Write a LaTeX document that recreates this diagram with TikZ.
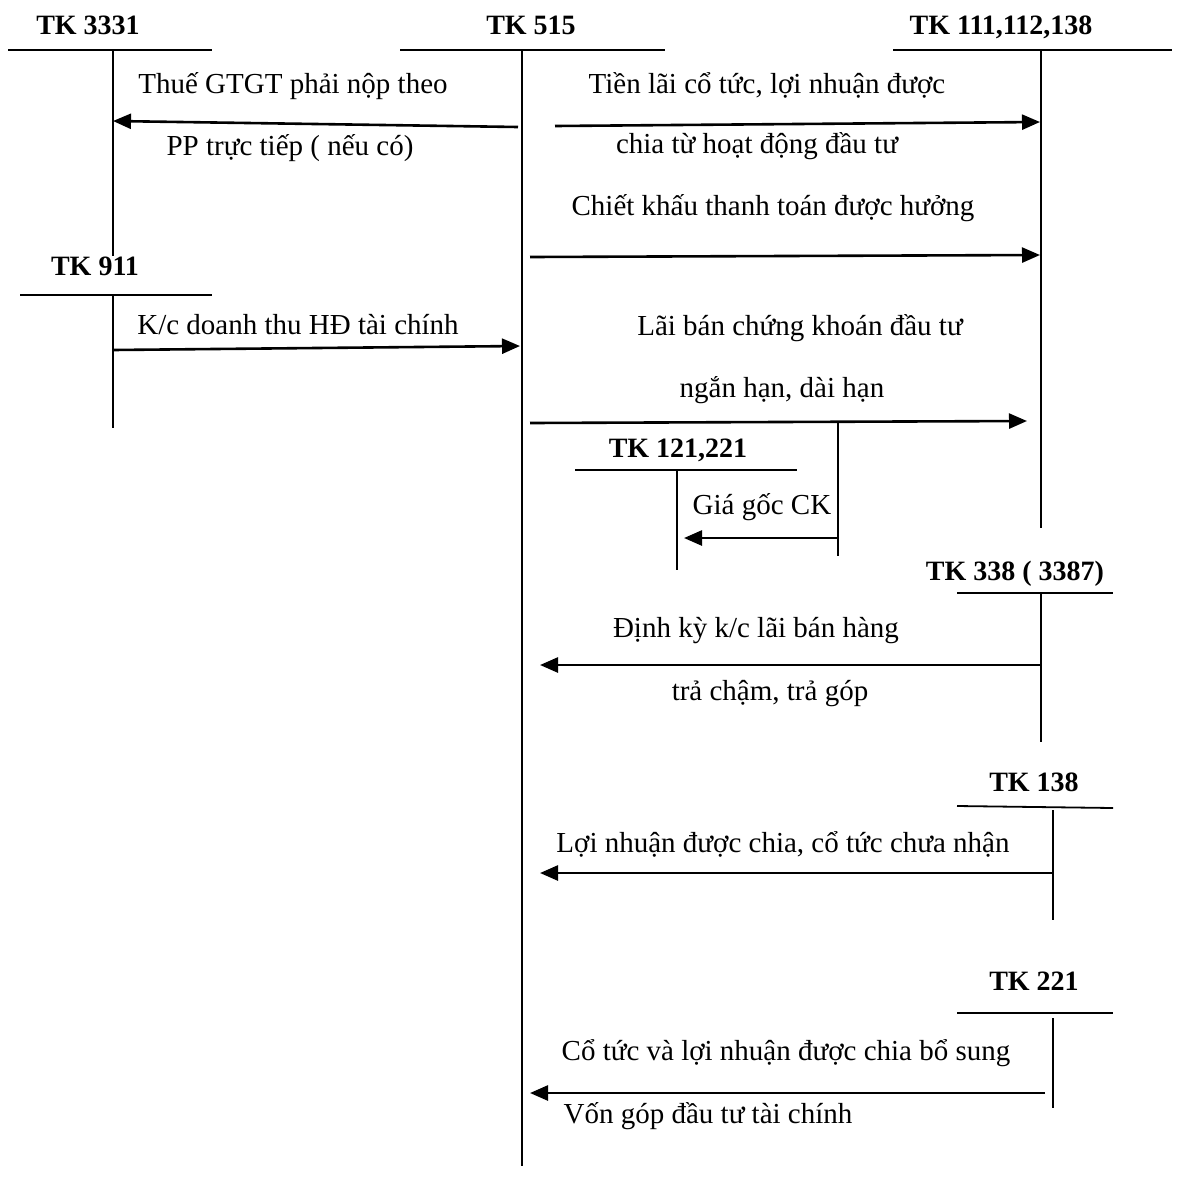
\documentclass[tikz,border=0pt]{standalone}
\usepackage{fontspec}
\setmainfont{Liberation Serif}
\usetikzlibrary{arrows.meta}
\begin{document}
\begin{tikzpicture}[x=1pt,y=-1pt,
  acct/.style={line width=1.8pt},
  flow/.style={line width=2.6pt,-{Triangle[length=18pt,width=15pt]}},
  title/.style={anchor=base,inner sep=0pt,font=\fontsize{28}{32}\selectfont\bfseries},
  note/.style={anchor=base,inner sep=0pt,font=\fontsize{29}{33}\selectfont}]
\useasboundingbox[fill=white] (0,0) rectangle (1178,1179);

% ---- account headings ----
\node[title] (t3331) at (88,34) {TK 3331};
\node[title] (t515) at (531,34) {TK 515};
\node[title] (t111) at (1001,34) {TK 111,112,138};
\node[title] (t911) at (95,275) {TK 911};
\node[title] (t121) at (678,457) {TK 121,221};
\node[title] (t338) at (1015,580) {TK 338 ( 3387)};
\node[title] (t138) at (1034,791) {TK 138};
\node[title] (t221) at (1034,990) {TK 221};

% ---- T-account frames ----
\draw[acct] (8,50) -- (212,50);   \draw[acct] (113,50) -- (113,256);
\draw[acct] (400,50) -- (665,50); \draw[acct] (522,50) -- (522,1166);
\draw[acct] (893,50) -- (1172,50);\draw[acct] (1041,50) -- (1041,528);
\draw[acct] (20,295) -- (212,295);\draw[acct] (113,295) -- (113,428);
\draw[acct] (575,470) -- (797,470);\draw[acct] (677,470) -- (677,570);
\draw[acct] (838,422) -- (838,556);
\draw[acct] (957,593) -- (1113,593);\draw[acct] (1041,593) -- (1041,742);
\draw[acct] (957,806) -- (1113,808);\draw[acct] (1053,810) -- (1053,920);
\draw[acct] (957,1013) -- (1113,1013);\draw[acct] (1053,1018) -- (1053,1108);

% ---- connector end points ----
\coordinate (a1s) at (518,127);  \coordinate (a1e) at (113,121);
\coordinate (a2s) at (555,126);  \coordinate (a2e) at (1040,122);
\coordinate (a3s) at (530,257);  \coordinate (a3e) at (1040,255);
\coordinate (a4s) at (113,350);  \coordinate (a4e) at (520,346);
\coordinate (a5s) at (530,423);  \coordinate (a5e) at (1027,421);
\coordinate (a6s) at (838,538);  \coordinate (a6e) at (684,538);
\coordinate (a7s) at (1041,665); \coordinate (a7e) at (540,665);
\coordinate (a8s) at (1053,873); \coordinate (a8e) at (540,873);
\coordinate (a9s) at (1045,1093);\coordinate (a9e) at (530,1093);

\draw[flow] (a1s) -- (a1e);
\draw[flow] (a2s) -- (a2e);
\draw[flow] (a3s) -- (a3e);
\draw[flow] (a4s) -- (a4e);
\draw[flow] (a5s) -- (a5e);
\draw[flow] (a6s) -- (a6e);
\draw[flow] (a7s) -- (a7e);
\draw[flow] (a8s) -- (a8e);
\draw[flow] (a9s) -- (a9e);

% ---- entry descriptions ----
\node[note] (n1a) at (293,93) {Thuế GTGT phải nộp theo};
\node[note] (n1b) at (290,155) {PP trực tiếp ( nếu có)};
\node[note] (n2a) at (767,93) {Tiền lãi cổ tức, lợi nhuận được};
\node[note] (n2b) at (757,153) {chia từ hoạt động đầu tư};
\node[note] (n3) at (773,215) {Chiết khấu thanh toán được hưởng};
\node[note] (n4) at (298,334) {K/c doanh thu HĐ tài chính};
\node[note] (n5a) at (800,335) {Lãi bán chứng khoán đầu tư};
\node[note] (n5b) at (782,397) {ngắn hạn, dài hạn};
\node[note] (n6) at (762,514) {Giá gốc CK};
\node[note] (n7a) at (756,637) {Định kỳ k/c lãi bán hàng};
\node[note] (n7b) at (770,700) {trả chậm, trả góp};
\node[note] (n8) at (783,852) {Lợi nhuận được chia, cổ tức chưa nhận};
\node[note] (n9a) at (786,1060) {Cổ tức và lợi nhuận được chia bổ sung};
\node[note] (n9b) at (708,1123) {Vốn góp đầu tư tài chính};
\end{tikzpicture}
\end{document}
